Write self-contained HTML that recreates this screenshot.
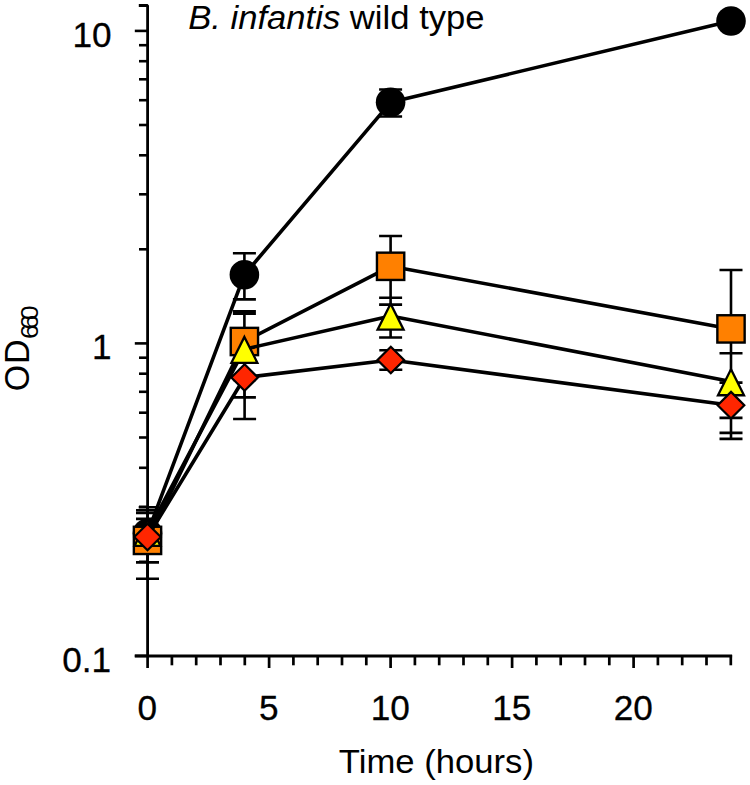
<!DOCTYPE html>
<html><head><meta charset="utf-8"><title>B. infantis wild type</title>
<style>html,body{margin:0;padding:0;background:#fff}svg{display:block}text{font-family:"Liberation Sans",sans-serif;fill:#000}</style></head><body>
<svg width="750" height="785" viewBox="0 0 750 785">
<rect width="750" height="785" fill="#fff"/>
<g stroke="#000" fill="none" stroke-linecap="butt">
<path d="M138.8 5.5H147.6V656" stroke-width="2.8" stroke-linejoin="bevel"/>
<path d="M134.8 655.9H732.1" stroke-width="3"/>
<g stroke-width="2.6">
<path d="M134.8 30.9H147.6"/>
<path d="M134.8 343.4H147.6"/>
<path d="M139 249.3H147.6"/>
<path d="M139 194.3H147.6"/>
<path d="M139 155.3H147.6"/>
<path d="M139 125.0H147.6"/>
<path d="M139 100.2H147.6"/>
<path d="M139 79.3H147.6"/>
<path d="M139 61.2H147.6"/>
<path d="M139 45.2H147.6"/>
<path d="M134.8 655.9H147.6"/>
<path d="M139 561.8H147.6"/>
<path d="M139 506.8H147.6"/>
<path d="M139 467.8H147.6"/>
<path d="M139 437.5H147.6"/>
<path d="M139 412.7H147.6"/>
<path d="M139 391.8H147.6"/>
<path d="M139 373.7H147.6"/>
<path d="M139 357.7H147.6"/>
</g>
<g stroke-width="2.7">
<path d="M147.6 655V668"/>
<path d="M171.9 655V665.3"/>
<path d="M196.2 655V665.3"/>
<path d="M220.5 655V665.3"/>
<path d="M244.8 655V665.3"/>
<path d="M269.1 655V668"/>
<path d="M293.4 655V665.3"/>
<path d="M317.7 655V665.3"/>
<path d="M342.0 655V665.3"/>
<path d="M366.3 655V665.3"/>
<path d="M390.6 655V668"/>
<path d="M414.9 655V665.3"/>
<path d="M439.2 655V665.3"/>
<path d="M463.5 655V665.3"/>
<path d="M487.8 655V665.3"/>
<path d="M512.1 655V668"/>
<path d="M536.4 655V665.3"/>
<path d="M560.7 655V665.3"/>
<path d="M585.0 655V665.3"/>
<path d="M609.3 655V665.3"/>
<path d="M633.6 655V668"/>
<path d="M657.9 655V665.3"/>
<path d="M682.2 655V665.3"/>
<path d="M706.5 655V665.3"/>
<path d="M730.8 655V665.3"/>
</g>
</g>
<path d="M147.5 513.0V562.4M136.0 513.0h23.0M136.0 562.4h23M244.4 253.2V299.4M232.9 253.2h23.0M232.9 299.4h23M390.6 89.5V116.5M379.1 89.5h23.0M379.1 116.5h23M147.5 507.3V578.7M138.7 507.3h17.6M136.0 578.7h23M244.4 311.3V380M232.9 311.3h23.0M232.9 380h23M390.6 236V304.6M379.1 236h23.0M379.1 304.6h23M731 270V438.9M719.5 270h23.0M719.5 438.9h23M147.5 510.3V550M136.0 510.3h23.0M136.0 550h23M244.4 313.8V397.4M232.9 313.8h23.0M232.9 397.4h23M390.6 297.8V337.5M379.1 297.8h23.0M379.1 337.5h23M731 353.3V417.9M719.5 353.3h23.0M719.5 417.9h23M147.5 518.9V550M136.0 518.9h23.0M136.0 550h23M244.6 346.7V419M233.1 346.7h23.0M233.1 419h23M390.8 350.3V369.7M379.3 350.3h23.0M379.3 369.7h23M731 382.6V432.9M719.5 382.6h23.0M719.5 432.9h23" stroke="#000" stroke-width="2.6" fill="none"/>
<g>
<polyline points="147.5,533.2 244.4,274.7 390.6,102.3 731,21" fill="none" stroke="#000" stroke-width="3.6" stroke-linejoin="round"/>
<circle cx="147.5" cy="533.2" r="14.8" fill="#000"/>
<circle cx="244.4" cy="274.7" r="14.8" fill="#000"/>
<circle cx="390.6" cy="102.3" r="14.8" fill="#000"/>
<circle cx="731" cy="21" r="14.8" fill="#000"/>
</g>
<g>
<polyline points="147.5,540.4 244.4,341.5 390.6,266.3 731,328.9" fill="none" stroke="#000" stroke-width="3.6" stroke-linejoin="round"/>
<rect x="133.85" y="526.75" width="27.3" height="27.3" fill="#FF8000" stroke="#000" stroke-width="2.4"/>
<rect x="230.75" y="327.85" width="27.3" height="27.3" fill="#FF8000" stroke="#000" stroke-width="2.4"/>
<rect x="376.95" y="252.65" width="27.3" height="27.3" fill="#FF8000" stroke="#000" stroke-width="2.4"/>
<rect x="717.35" y="315.25" width="27.3" height="27.3" fill="#FF8000" stroke="#000" stroke-width="2.4"/>
</g>
<g>
<polyline points="147.5,532.3 244.4,349.2 390.6,316 731,381.6" fill="none" stroke="#000" stroke-width="3.6" stroke-linejoin="round"/>
<path d="M147.5 520.00L160.50 545.95H134.50Z" fill="#FFFF00" stroke="#000" stroke-width="2.3" stroke-linejoin="miter"/>
<path d="M244.4 336.90L257.40 362.85H231.40Z" fill="#FFFF00" stroke="#000" stroke-width="2.3" stroke-linejoin="miter"/>
<path d="M390.6 303.70L403.60 329.65H377.60Z" fill="#FFFF00" stroke="#000" stroke-width="2.3" stroke-linejoin="miter"/>
<path d="M731 369.30L744.00 395.25H718.00Z" fill="#FFFF00" stroke="#000" stroke-width="2.3" stroke-linejoin="miter"/>
</g>
<g>
<polyline points="147.5,537 244.6,377.5 390.8,360 731,405.2" fill="none" stroke="#000" stroke-width="3.6" stroke-linejoin="round"/>
<path d="M147.5 523.70L160.80 537L147.5 550.30L134.20 537Z" fill="#FF2600" stroke="#000" stroke-width="2.2" stroke-linejoin="miter"/>
<path d="M244.6 364.20L257.90 377.5L244.6 390.80L231.30 377.5Z" fill="#FF2600" stroke="#000" stroke-width="2.2" stroke-linejoin="miter"/>
<path d="M390.8 346.70L404.10 360L390.8 373.30L377.50 360Z" fill="#FF2600" stroke="#000" stroke-width="2.2" stroke-linejoin="miter"/>
<path d="M731 391.90L744.30 405.2L731 418.50L717.70 405.2Z" fill="#FF2600" stroke="#000" stroke-width="2.2" stroke-linejoin="miter"/>
</g>
<g font-size="35.2px" text-anchor="end" stroke="#000" stroke-width="0.3">
<text x="111.6" y="46.6">10</text>
<text x="111.6" y="359.3">1</text>
<text x="111.2" y="671.8">0.1</text>
</g>
<g font-size="35.2px" text-anchor="middle" stroke="#000" stroke-width="0.3">
<text x="147.3" y="719.6">0</text>
<text x="268.8" y="719.6">5</text>
<text x="390.3" y="719.6">10</text>
<text x="511.8" y="719.6">15</text>
<text x="633.3" y="719.6">20</text>
</g>
<text transform="translate(188.2 28.9) scale(1.028 1)" font-size="33.7px"><tspan font-style="italic">B. infantis</tspan> wild type</text>
<text transform="translate(436.4 772.6) scale(1.05 1)" font-size="33px" text-anchor="middle">Time (hours)</text>
<text transform="translate(29.3 391.2) rotate(-90) scale(1 1.04)" font-size="34px" letter-spacing="0.7">OD</text>
<text transform="translate(37.7 339.1) rotate(-90) scale(1.12 1)" font-size="23.5px" letter-spacing="-4.5">660</text>
</svg></body></html>
